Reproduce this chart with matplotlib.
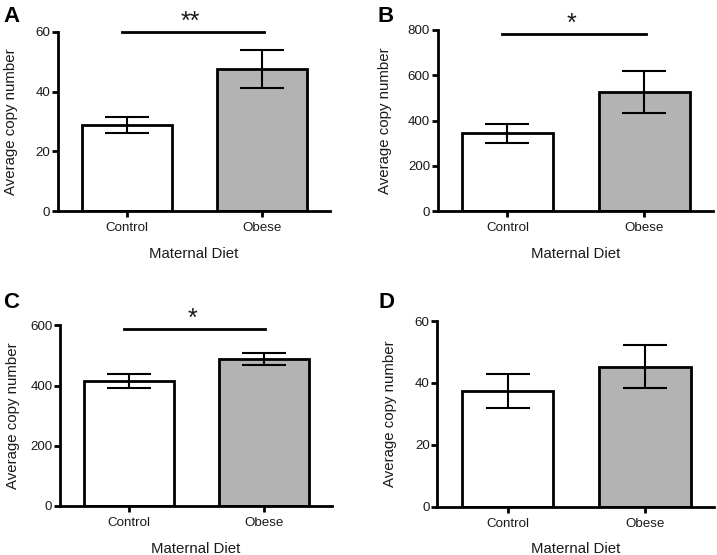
import matplotlib
matplotlib.use('Agg')
import matplotlib.pyplot as plt

plt.rcParams['font.family'] = ['Liberation Sans', 'DejaVu Sans']

groups = ['Control', 'Obese']
bar_colors = ['white', '#b3b3b3']

# mean and SEM per panel
means_a = [28.7, 47.5]
sem_a = [2.7, 6.3]
means_b = [344, 525]
sem_b = [42, 92]
means_c = [415, 488]
sem_c = [24, 20.5]
means_d = [37.4, 45.2]
sem_d = [5.4, 6.9]

ymax = [60, 800, 600, 60]
yticks = [[0, 20, 40, 60], [0, 200, 400, 600, 800], [0, 200, 400, 600], [0, 20, 40, 60]]
sig_line = [60, 784, 589, None]
sig_text = ['**', '*', '*', None]
letters = ['A', 'B', 'C', 'D']

# axes boxes in figure pixels: left, top, right, bottom
boxes = [(58, 32, 330, 211), (437.7, 30, 712.7, 211.3),
         (60, 325.3, 331.7, 506), (437.3, 321, 714, 506.7)]
letter_pos = [(3, 21.7), (377.3, 21.7), (2.7, 308.3), (378.3, 308.3)]

W, H = 717, 555
fig = plt.figure(figsize=(W / 100, H / 100), dpi=100)

panels = [(means_a, sem_a), (means_b, sem_b), (means_c, sem_c), (means_d, sem_d)]
txt_col = '#1a1a1a'

for i, (means, sems) in enumerate(panels):
    l, t, r, b = boxes[i]
    ax = fig.add_axes([l / W, 1 - b / H, (r - l) / W, (b - t) / H])
    x = [0, 1]
    ax.bar(x, means, width=0.667, color=bar_colors, edgecolor='black', linewidth=2.0, zorder=2)
    ax.errorbar(x, means, yerr=sems, fmt='none', ecolor='black', elinewidth=1.5,
                capsize=15.5, capthick=1.5, zorder=3)
    ax.set_xlim(-0.51, 1.5)
    ax.set_ylim(0, ymax[i])
    ax.set_yticks(yticks[i])
    ax.set_xticks(x)
    ax.set_xticklabels(groups)
    for s in ['top', 'right']:
        ax.spines[s].set_visible(False)
    for s in ['left', 'bottom']:
        ax.spines[s].set_linewidth(2.0)
    ax.tick_params(axis='y', length=4, width=2.0, labelsize=9.6, pad=1.5, labelcolor=txt_col)
    ax.tick_params(axis='x', length=4, width=2.0, labelsize=9.6, pad=4, labelcolor=txt_col)
    ax.set_ylabel('Average copy number', fontsize=10.8, color=txt_col)
    ax.set_xlabel('Maternal Diet', fontsize=10.8, color=txt_col, labelpad=9)
    ax.yaxis.set_label_coords(-0.147 if i != 1 else -0.168, 0.5)

    if sig_line[i] is not None:
        ax.plot([-0.04, 1.01], [sig_line[i], sig_line[i]], color='black', lw=2.0,
                clip_on=False, zorder=4)
        ax.annotate(sig_text[i], xy=(0.47, sig_line[i]), xytext=(0, 2),
                    textcoords='offset points', ha='center', va='baseline',
                    fontsize=18, color=txt_col, annotation_clip=False)

    lx, ly = letter_pos[i]
    fig.text(lx / W, 1 - ly / H, letters[i], fontsize=16, fontweight='bold',
             ha='left', va='baseline')

fig.savefig('out.png', dpi=100)
